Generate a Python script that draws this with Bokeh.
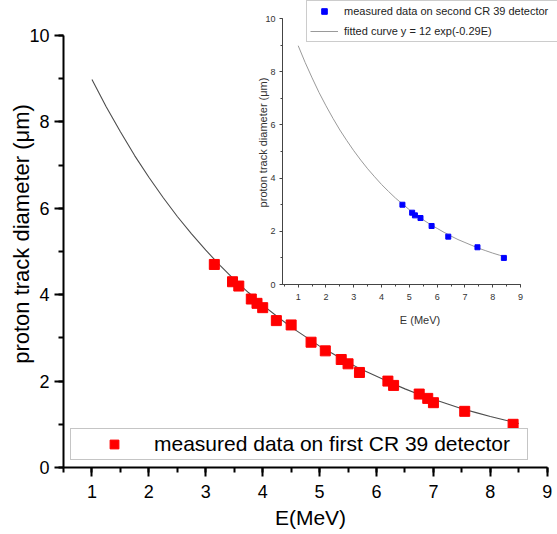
from bokeh.plotting import figure
from bokeh.models import Range1d, SingleIntervalTicker, GridBox, Legend, LegendItem
from bokeh.embed import file_html
from bokeh.resources import INLINE

FONT = "Liberation Sans"

# measured data, first CR 39 detector (main plot)
main_energy = [3.15, 3.47, 3.58, 3.8, 3.9, 4.0, 4.24, 4.5, 4.85, 5.1,
               5.38, 5.5, 5.7, 6.2, 6.3, 6.75, 6.9, 7.0, 7.55, 8.4]
main_diam = [4.7, 4.3, 4.2, 3.9, 3.8, 3.7, 3.4, 3.3, 2.9, 2.7,
             2.5, 2.4, 2.2, 2.0, 1.9, 1.7, 1.6, 1.5, 1.3, 1.0]

# measured data, second CR 39 detector (inset)
inset_energy = [4.75, 5.1, 5.2, 5.4, 5.8, 6.4, 7.45, 8.4]
inset_diam = [3.0, 2.7, 2.6, 2.5, 2.2, 1.8, 1.4, 1.0]

# fitted curve y = 12 exp(-0.29E)
curve_energy = [1.0, 1.25, 1.5, 1.75, 2.0, 2.25, 2.5, 2.75, 3.0, 3.25, 3.5,
                3.75, 4.0, 4.25, 4.5, 4.75, 5.0, 5.25, 5.5, 5.75, 6.0, 6.25,
                6.5, 6.75, 7.0, 7.25, 7.5, 7.75, 8.0, 8.25, 8.5]
curve_diam = [8.98, 8.35, 7.77, 7.22, 6.72, 6.25, 5.81, 5.41, 5.03, 4.68, 4.35,
              4.05, 3.76, 3.50, 3.25, 3.03, 2.81, 2.62, 2.43, 2.26, 2.11, 1.96,
              1.82, 1.69, 1.58, 1.47, 1.36, 1.27, 1.18, 1.10, 1.02]

# axis extents (axis lines stop at these values)
x_axis_span = (0.5, 9)
inset_x_axis_span = (0.435, 9)
y_axis_span = (0, 10)

main_label = "measured data on first CR 39 detector"
inset_label = "measured data on second CR 39 detector"
fit_label = "fitted curve y = 12 exp(-0.29E)"
y_title = "proton track diameter (\u03bcm)"

# ---------------- main plot ----------------
main = figure(width=557, height=534, x_range=Range1d(0.5, 9.18), y_range=Range1d(0, 10.81),
              output_backend="svg", toolbar_location=None,
              min_border_left=63, min_border_right=0, min_border_top=0, min_border_bottom=67)
main.outline_line_color = None
main.grid.visible = False
main.line(curve_energy, curve_diam, line_color="#4d4d4d", line_width=1.1)
r_main = main.scatter(main_energy, main_diam, marker="square", size=10,
                      fill_color="#ff0000", line_color="#ff0000")

main.xaxis.ticker = SingleIntervalTicker(interval=1, num_minor_ticks=2)
main.yaxis.ticker = SingleIntervalTicker(interval=2, num_minor_ticks=2)
main.xaxis.bounds = x_axis_span
main.yaxis.bounds = y_axis_span
main.xaxis.axis_label = "E(MeV)"
main.yaxis.axis_label = y_title
for ax in (main.xaxis[0], main.yaxis[0]):
    ax.axis_line_width = 2
    ax.axis_line_color = "black"
    ax.major_tick_line_width = 2
    ax.minor_tick_line_width = 2
    ax.major_tick_in = 0
    ax.major_tick_out = 9
    ax.minor_tick_in = 0
    ax.minor_tick_out = 5
    ax.major_label_text_font = FONT
    ax.major_label_text_font_size = "18px"
    ax.major_label_text_color = "black"
    ax.axis_label_text_font = FONT
    ax.axis_label_text_font_style = "normal"
    ax.axis_label_text_color = "black"
main.xaxis.major_label_standoff = 8
main.yaxis.major_label_standoff = 5
main.xaxis.axis_label_text_font_size = "21px"
main.yaxis.axis_label_text_font_size = "22px"
main.xaxis.axis_label_standoff = 5
main.yaxis.axis_label_standoff = -8

leg_main = Legend(items=[LegendItem(label=main_label, renderers=[r_main])],
                  location=(7, 7), padding=3, spacing=0, margin=0,
                  glyph_width=80, glyph_height=22, label_standoff=0, label_width=370,
                  label_text_font=FONT, label_text_font_size="21px", label_text_color="black",
                  border_line_color="#8c8c8c", border_line_width=1,
                  background_fill_color="white", background_fill_alpha=1)
main.add_layout(leg_main)

# ---------------- inset plot ----------------
inset = figure(width=315, height=334, x_range=Range1d(0.435, 10.33), y_range=Range1d(0, 10.68),
               output_backend="svg", toolbar_location=None,
               min_border_left=40, min_border_right=0, min_border_top=0, min_border_bottom=50)
inset.background_fill_color = None
inset.border_fill_color = None
inset.outline_line_color = None
inset.grid.visible = False
r_fit = inset.line(curve_energy, curve_diam, line_color="#9a9a9a", line_width=1)
r_inset = inset.scatter(inset_energy, inset_diam, marker="square", size=5,
                        fill_color="#0000ff", line_color="#0000ff")

inset.xaxis.ticker = SingleIntervalTicker(interval=1, num_minor_ticks=2)
inset.yaxis.ticker = SingleIntervalTicker(interval=2, num_minor_ticks=2)
inset.xaxis.bounds = inset_x_axis_span
inset.yaxis.bounds = y_axis_span
inset.xaxis.axis_label = "E (MeV)"
inset.yaxis.axis_label = y_title
for ax in (inset.xaxis[0], inset.yaxis[0]):
    ax.axis_line_width = 1
    ax.axis_line_color = "#444444"
    ax.major_tick_line_color = "#444444"
    ax.minor_tick_line_color = "#444444"
    ax.major_tick_in = 0
    ax.major_tick_out = 3
    ax.minor_tick_in = 0
    ax.minor_tick_out = 2
    ax.major_label_text_font = FONT
    ax.major_label_text_font_size = "9px"
    ax.major_label_text_color = "#333333"
    ax.axis_label_text_font = FONT
    ax.axis_label_text_font_style = "normal"
    ax.axis_label_text_font_size = "11px"
    ax.axis_label_text_color = "#333333"
inset.xaxis.major_label_standoff = 6
inset.yaxis.major_label_standoff = 4
inset.xaxis.axis_label_standoff = 11
inset.yaxis.axis_label_standoff = -7

leg_inset = Legend(items=[LegendItem(label=inset_label, renderers=[r_inset]),
                          LegendItem(label=fit_label, renderers=[r_fit])],
                   location=(24, 242), padding=3, spacing=6, margin=0,
                   glyph_width=28, glyph_height=14, label_height=14, label_standoff=6,
                   label_width=230,
                   label_text_font=FONT, label_text_font_size="11px", label_text_color="#222222",
                   border_line_color="#999999", border_line_width=1,
                   background_fill_color="white", background_fill_alpha=1)
inset.add_layout(leg_inset)

layout = GridBox(children=[(main, 0, 0, 2, 2), (inset, 0, 1, 1, 1)],
                 rows=["334px", "200px"], cols=["242px", "315px"])

open("out.html", "w").write(file_html(layout, INLINE))
